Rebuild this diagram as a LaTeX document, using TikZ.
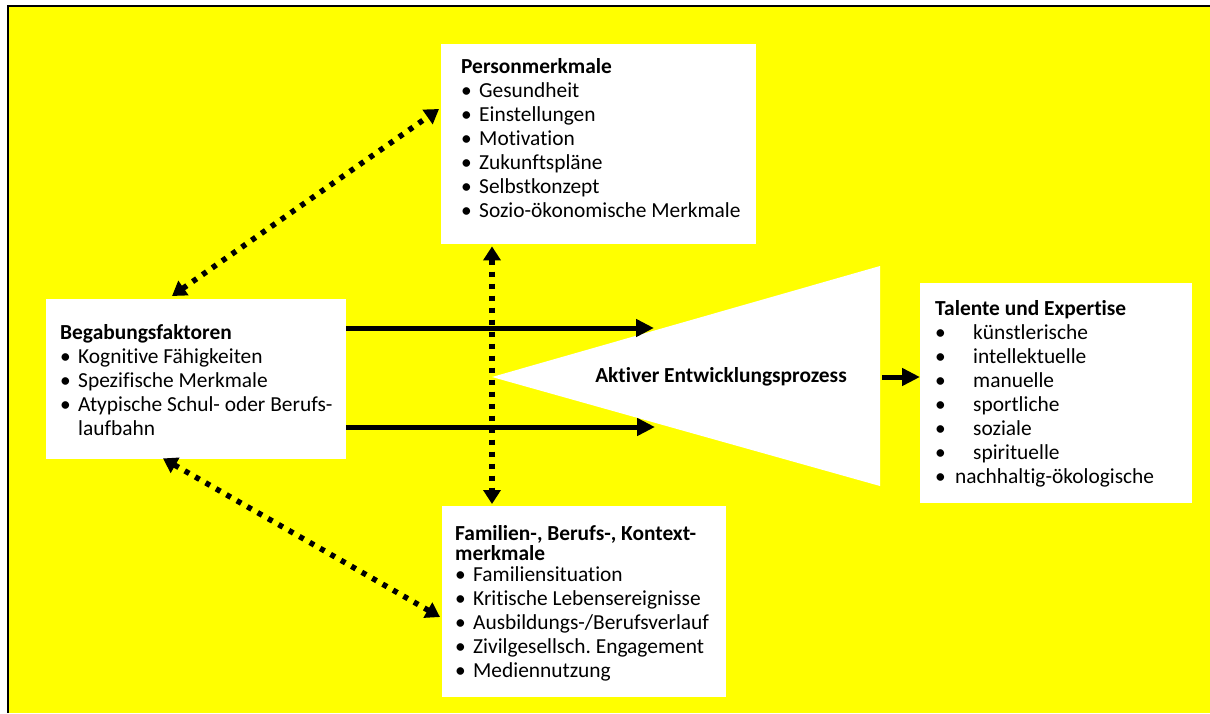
\documentclass[tikz,border=0pt]{standalone}
\usepackage{fontspec}
\setmainfont{Carlito}[Ligatures=NoCommon]
\usetikzlibrary{arrows.meta,calc}
\definecolor{yel}{RGB}{255,255,0}
\newcommand{\myb}[1][18pt]{\makebox[#1][l]{\textbullet}}
\frenchspacing
\begin{document}
\begin{tikzpicture}[x=1pt,y=-1pt,
  box/.style={fill=white, draw=none, anchor=north west, inner sep=0pt},
  txt/.style={anchor=base west, inner sep=0pt, align=left,
    font=\fontsize{21.4}{24}\selectfont},
  arr/.style={line width=5pt, -{Triangle[length=18pt,width=17pt]}},
  dotarr/.style={line width=5.5pt, dash pattern=on 5pt off 7pt,
    {Triangle[length=14pt,width=17pt]}-{Triangle[length=14pt,width=17pt]}},
]
\useasboundingbox (0,0) rectangle (1210,713);
\fill[white] (0,0) rectangle (1210,713);
\fill[yel] (8,6) rectangle (1210,713);
\draw[line width=2pt] (7.5,713) -- (7.5,5.5) -- (1211,5.5);

% boxes
\node[box, minimum width=315pt, minimum height=200pt] (pers) at (441,44) {};
\node[txt] (perstext) at ($(pers.north west)+(20,29.5)$) {%
\begin{tabular}[t]{@{}l@{}}
\textbf{Personmerkmale}\\
\myb Gesundheit\\
\myb Einstellungen\\
\myb Motivation\\
\myb Zukunftspläne\\
\myb Selbstkonzept\\
\myb Sozio-ökonomische Merkmale
\end{tabular}};

\node[box, minimum width=300pt, minimum height=160pt] (beg) at (46,299) {};
\node[txt] (begtext) at ($(beg.north west)+(14,40)$) {%
\begin{tabular}[t]{@{}l@{}}
\textbf{Begabungsfaktoren}\\
\myb Kognitive Fähigkeiten\\
\myb Spezifische Merkmale\\
\myb Atypische Schul- oder Berufs-\\
\hspace*{18pt}laufbahn
\end{tabular}};

\node[box, minimum width=284pt, minimum height=191pt] (fam) at (442,506) {};
\node[txt] (famtext) at ($(fam.north west)+(13,34)$) {%
\begin{tabular}[t]{@{}l@{}}
\textbf{Familien-, Berufs-, Kontext-}\\[-4pt]
\textbf{merkmale}\\[-3pt]
\myb Familiensituation\\
\myb Kritische Lebensereignisse\\
\myb Ausbildungs-/Berufsverlauf\\
\myb Zivilgesellsch. Engagement\\
\myb Mediennutzung
\end{tabular}};

\node[box, minimum width=272pt, minimum height=220pt] (tal) at (920,283) {};
\node[txt] (taltext) at ($(tal.north west)+(15,32)$) {%
\begin{tabular}[t]{@{}l@{}}
\textbf{Talente und Expertise}\\
\myb[38pt]künstlerische\\
\myb[38pt]intellektuelle\\
\myb[38pt]manuelle\\
\myb[38pt]sportliche\\
\myb[38pt]soziale\\
\myb[38pt]spirituelle\\
\myb[20pt]nachhaltig-ökologische
\end{tabular}};

% triangle
\coordinate (apex) at (492,377);
\coordinate (triT) at (880,266);
\coordinate (triB) at (880,486);
\coordinate (triE) at (880,377);
\fill[white] (apex) -- (triT) -- (triB) -- cycle;
\node[font=\fontsize{21.4}{24}\selectfont\bfseries, inner sep=0pt] (proc) at (721,377) {Aktiver Entwicklungsprozess};

% solid arrows
\coordinate (a1) at (654,328);
\coordinate (a2) at (655,427);
\draw[arr] (beg.east |- a1) -- (a1);
\draw[arr] (beg.east |- a2) -- (a2);
\draw[arr] ($(triE)+(2,0)$) -- (tal.west |- triE);

% dotted double arrows
\draw[dotarr] ($(pers.south -| apex)+(0,2)$) -- ($(fam.north -| apex)+(0,-2)$);
\draw[dotarr] ($(beg.north west)+(126,-3)$) -- ($(pers.north west)+(-2,65)$);
\draw[dotarr] ($(beg.south west)+(117,-1)$) -- ($(fam.north west)+(-2,111)$);
\end{tikzpicture}
\end{document}
